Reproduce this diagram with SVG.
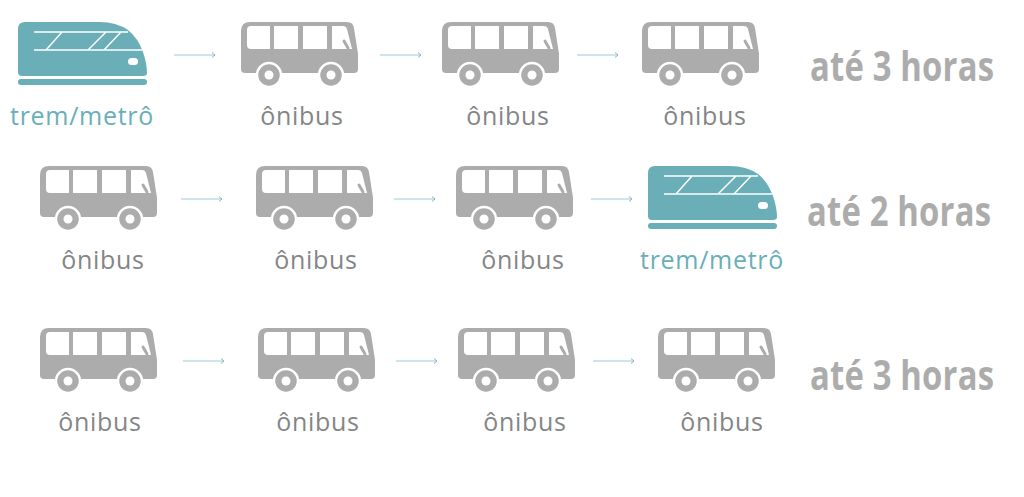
<svg xmlns="http://www.w3.org/2000/svg" width="1024" height="497" viewBox="0 0 1024 497">
<style>
.l{font-family:"Open Sans","Noto Sans",sans-serif;font-size:25px;letter-spacing:.7px;text-anchor:middle}
.g{fill:#858585}.t{fill:#6aaeb8}
.h{font-family:"Open Sans","Noto Sans",sans-serif;font-weight:700;font-size:41px;fill:#acacac}
.c line{stroke:#9ccbd2;stroke-width:1}
.c path{fill:none;stroke:#7fbac3;stroke-width:1}
</style>
<defs>
<g id="bus">
<path d="M9 0H106Q112 0 113 6L117 32V47Q117 51 113 51H4Q0 51 0 47V9Q0 0 9 0Z" fill="#acacac"/>
<path d="M6 8Q6 4 10 4H29V27H10Q6 27 6 23ZM33 4H57V27H33ZM62 4H86V27H62ZM91 4H102Q105 4 106 7L111 27H91Z" fill="#fff"/>
<path d="M103 19L107 26" stroke="#acacac" stroke-width="3" stroke-linecap="round" fill="none"/>
<circle cx="28" cy="53" r="12" fill="#acacac" stroke="#fff" stroke-width="2.500"/>
<circle cx="28" cy="53" r="4.500" fill="#fff"/>
<circle cx="90" cy="53" r="12" fill="#acacac" stroke="#fff" stroke-width="2.500"/>
<circle cx="90" cy="53" r="4.500" fill="#fff"/>
</g>
<g id="train">
<path d="M7 0H82Q98 0 110 8Q120 16 125 30Q129 42 129 51Q129 54 125 54H4Q0 54 0 50V7Q0 0 7 0Z" fill="#6aaeb8"/>
<path d="M16 10H110M16 28H124M44 10L28 28M88 10L70 28M103 10L86 28" stroke="#fff" stroke-width="1.500" fill="none"/>
<rect x="110" y="36" width="10" height="7" rx="3.500" fill="#fff"/>
<rect x="0" y="57" width="129" height="6" rx="3" fill="#6aaeb8"/>
</g>
</defs>
<g id="connectors" class="c">
<g transform="translate(174,55)"><line x2="41"/><path d="M38-2.500L41 0L38 2.500"/></g>
<g transform="translate(380,55)"><line x2="41"/><path d="M38-2.500L41 0L38 2.500"/></g>
<g transform="translate(577,55)"><line x2="41"/><path d="M38-2.500L41 0L38 2.500"/></g>
<g transform="translate(181,199)"><line x2="41"/><path d="M38-2.500L41 0L38 2.500"/></g>
<g transform="translate(394,199)"><line x2="41"/><path d="M38-2.500L41 0L38 2.500"/></g>
<g transform="translate(591,199)"><line x2="41"/><path d="M38-2.500L41 0L38 2.500"/></g>
<g transform="translate(183,361)"><line x2="41"/><path d="M38-2.500L41 0L38 2.500"/></g>
<g transform="translate(396,361)"><line x2="41"/><path d="M38-2.500L41 0L38 2.500"/></g>
<g transform="translate(593,361)"><line x2="41"/><path d="M38-2.500L41 0L38 2.500"/></g>
</g>
<g id="r1n1"><use href="#train" x="18" y="22"/><text class="l t" x="82" y="125">trem/metrô</text></g>
<g id="r1n2"><use href="#bus" x="241" y="22"/><text class="l g" x="302" y="125">ônibus</text></g>
<g id="r1n3"><use href="#bus" x="442" y="22"/><text class="l g" x="508" y="125">ônibus</text></g>
<g id="r1n4"><use href="#bus" x="642" y="22"/><text class="l g" x="705" y="125">ônibus</text></g>
<text id="r1t" class="h" transform="translate(810,81) scale(.8,1)" textLength="230" lengthAdjust="spacing">até 3 horas</text>
<g id="r2n1"><use href="#bus" x="40" y="166"/><text class="l g" x="103" y="269">ônibus</text></g>
<g id="r2n2"><use href="#bus" x="256" y="166"/><text class="l g" x="316" y="269">ônibus</text></g>
<g id="r2n3"><use href="#bus" x="456" y="166"/><text class="l g" x="523" y="269">ônibus</text></g>
<g id="r2n4"><use href="#train" x="648" y="166"/><text class="l t" x="712" y="269">trem/metrô</text></g>
<text id="r2t" class="h" transform="translate(807,226) scale(.8,1)" textLength="230" lengthAdjust="spacing">até 2 horas</text>
<g id="r3n1"><use href="#bus" x="40" y="328"/><text class="l g" x="100" y="431">ônibus</text></g>
<g id="r3n2"><use href="#bus" x="258" y="328"/><text class="l g" x="318" y="431">ônibus</text></g>
<g id="r3n3"><use href="#bus" x="458" y="328"/><text class="l g" x="525" y="431">ônibus</text></g>
<g id="r3n4"><use href="#bus" x="658" y="328"/><text class="l g" x="722" y="431">ônibus</text></g>
<text id="r3t" class="h" transform="translate(810,390) scale(.8,1)" textLength="230" lengthAdjust="spacing">até 3 horas</text>
</svg>
